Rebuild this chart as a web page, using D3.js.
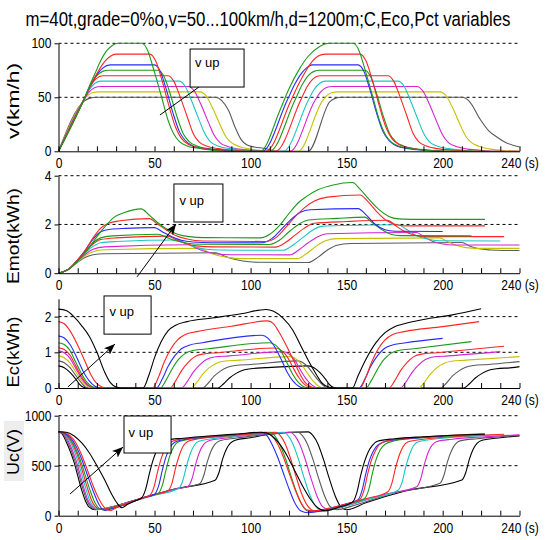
<!DOCTYPE html>
<html><head><meta charset="utf-8">
<script src="https://cdn.jsdelivr.net/npm/d3@7"></script>
<style>body{margin:0;background:#fff}svg{display:block}text{font-family:"Liberation Sans",Arial,sans-serif;fill:#000}</style>
</head><body><svg id="c" width="550" height="540"></svg>
<script>
const title = "m=40t,grade=0%o,v=50...100km/h,d=1200m;C,Eco,Pct variables";
const speeds = [50,55,60,65,70,75,80,90,100];
const xTickValues = [0,50,100,150,200,240];
const xTickLabels = ["0","50","100","150","200","240 (s)"];
const yLabels = ["v(km/h)","Emot(kWh)","Ec(kWh)","Uc(V)"];
const yTicksV = [0,50,100], yTicksEmot = [0,2,4], yTicksEc = [0,1,2], yTicksUc = [0,500,1000];
const annText = "v up";

const G='#1a9a1a', R='#ff2424', B='#2a2aff', C='#1cc4c4', M='#d424d4', Y='#c8c000', K='#000000', GR='#5a5a5a';
const vColors    = [GR,Y,M,C,R,G,B,R,G];
const emotColors = [GR,Y,M,C,R,G,B,R,G];
const ecColors   = [K,GR,Y,M,R,G,B,R,K];
const ucColors   = [K,GR,M,C,R,G,B,R,K];

const vSeries = [
 [[0,0],[13,46],[16,49],[20,50],[81.5,50],[85,47],[88.5,38],[92,22],[95,11],[98,6],[102,4],[108,2.5],[112,0.5],[115,0],[130,0],[141.3,46],[144,49],[147,50],[210,50],[214,46],[219.4,30],[224,19],[228,13.5],[233,8],[240,4]],
 [[0,0],[13,47],[15.5,52],[18,54.5],[21,55],[73.6,55],[77,51],[80,41],[84,25],[87,14],[90,8],[94,4.5],[100,2],[107,0.5],[110,0],[124.7,0],[137.5,47],[140,52],[142.5,54.5],[145.5,55],[198.6,55],[202,51],[205,41],[209,25],[212,14],[215,8],[219,4.5],[225,2],[232,0.8],[240,0.3]],
 [[0,0],[13,47],[16,55],[19,59],[22,60],[67.6,60],[71,55],[74,44],[78,27],[81,15],[84,8],[88,4.5],[94,2],[102,0.8],[107,0],[120.5,0],[133.5,47],[136.5,55],[139.5,59],[142.5,60],[186.5,60],[190,55],[193,44],[197,27],[200,15],[203,8],[207,4.5],[213,2],[221,0.8],[228,0],[240,0]],
 [[0,0],[13,47],[16,57],[19,63],[22,65],[62.7,65],[66,60],[69,48],[73,30],[76,17],[79,9],[83,5],[89,2.5],[97,1],[103,0],[117,0],[130,47],[133,57],[136,63],[139,65],[176.8,65],[180,60],[183,48],[187,30],[190,17],[193,9],[197,5],[203,2.5],[211,1],[218,0],[230,0]],
 [[0,0],[13,47],[16.5,60],[19.5,67],[23,70],[57,70],[60,65],[63,52],[67,32],[70,17],[73,9],[77,5],[83,2.5],[92,1],[98,0],[113,0],[126,47],[129.5,60],[132.5,67],[136,70],[171.5,70],[174.5,65],[177.5,52],[181.5,32],[184.5,17],[187.5,9],[191.5,5],[197,2.5],[206,1],[214,0],[232,0]],
 [[0,0],[13,47],[17,62],[20,70],[23,74],[26,75],[52,75],[55,69],[58,54],[61.5,33],[65,16],[68,9],[72,5],[78,2.5],[87,1],[94,0],[110,0],[123,47],[127,62],[130,70],[133,74],[136,75],[159.5,75],[162.5,69],[165.5,54],[169,33],[172.5,16],[175.5,9],[179.5,5],[185,2.5],[194,1],[202,0],[215,0]],
 [[0,0],[13,47],[17,62],[20,71],[23,77],[27,80],[50,80],[53,74],[56,58],[59.5,36],[63,18],[66,10],[70,5],[76,2.5],[85,1],[92,0],[106,0],[119,47],[123,62],[126,71],[129,77],[132,80],[156,80],[159,74],[162,58],[165.5,36],[169,18],[172,10],[176,5],[182,2.5],[191,1],[200,0]],
 [[0,0],[13,47],[17,62],[21,75],[24,83],[27,88],[30,90],[47.6,90],[50.5,84],[54,65],[57.5,42],[61,22],[64,12],[68,6],[74,3],[82,1],[90,0],[108,0],[121,47],[125,62],[129,75],[132,83],[135,88],[139,90],[157,90],[160,84],[163.5,65],[167,42],[170.5,22],[173.5,12],[177.5,6],[183,3],[191,1],[200,0],[222,0]],
 [[0,0],[13,47],[16,60],[19,72],[22,84],[25,93],[28,98],[31,100],[43.3,100],[46,95],[50,73],[54,48],[57,29],[60,16],[63,9],[67,5],[72,3],[80,1],[88,0],[105,0],[115.3,38],[120,58],[125.7,77],[130,88],[136,97],[141,100],[153.3,100],[156,95],[160,73],[164,48],[167,29],[170,16],[173,9],[177,5],[182,3],[190,1],[200,0],[222,0]]
];

const emotSeries = [
 [[0,0],[5,0.15],[10,0.45],[14,0.65],[18,0.76],[24,0.8],[81.5,0.84],[85,0.75],[90,0.6],[96,0.5],[104,0.45],[130,0.44],[135,0.65],[140,0.95],[145,1.15],[152,1.22],[210,1.26],[214,1.12],[219,1.0],[225,0.95],[232,0.93],[240,0.93]],
 [[0,0],[5,0.15],[10,0.48],[14,0.72],[18,0.88],[24,0.96],[73.5,1.02],[77,0.9],[82,0.75],[88,0.65],[96,0.6],[124.5,0.6],[129,0.8],[134,1.1],[139,1.33],[145,1.42],[198.5,1.45],[202,1.32],[207,1.15],[212,1.05],[218,1.02],[240,1.02]],
 [[0,0],[5,0.15],[10,0.5],[14,0.78],[18,0.98],[24,1.08],[67.5,1.17],[71,1.05],[76,0.9],[82,0.8],[90,0.76],[120.5,0.75],[125,0.95],[130,1.25],[135,1.5],[140,1.62],[186.5,1.67],[190,1.5],[195,1.3],[200,1.2],[206,1.16],[240,1.16]],
 [[0,0],[5,0.15],[10,0.52],[14,0.85],[18,1.1],[22,1.25],[30,1.3],[62.5,1.36],[66,1.24],[71,1.08],[77,0.98],[84,0.95],[117,0.94],[122,1.15],[127,1.45],[132,1.75],[137,1.92],[150,1.96],[177,1.99],[181,1.8],[186,1.56],[192,1.4],[198,1.33],[230,1.32]],
 [[0,0],[5,0.15],[10,0.55],[14,0.88],[18,1.2],[22,1.38],[30,1.45],[57,1.52],[61,1.38],[66,1.22],[72,1.12],[80,1.08],[113,1.07],[118,1.25],[123,1.55],[128,1.85],[133,2.05],[150,2.12],[171.5,2.17],[175,1.98],[180,1.72],[186,1.55],[192,1.5],[232,1.5]],
 [[0,0],[5,0.15],[10,0.55],[14,0.9],[18,1.25],[22,1.45],[28,1.53],[52,1.6],[56,1.48],[61,1.33],[67,1.23],[74,1.19],[110,1.18],[115,1.35],[120,1.7],[125,2.0],[130,2.18],[145,2.25],[159.5,2.3],[163,2.1],[168,1.8],[173,1.6],[178,1.54],[215,1.53]],
 [[0,0],[5,0.15],[10,0.55],[14,0.95],[18,1.4],[22,1.7],[27,1.8],[35,1.84],[50,1.87],[54,1.7],[59,1.5],[64,1.35],[70,1.28],[80,1.25],[106,1.25],[111,1.42],[116,1.8],[121,2.2],[126,2.5],[131,2.6],[156,2.65],[160,2.4],[165,2.0],[170,1.78],[175,1.72],[200,1.71]],
 [[0,0],[5,0.15],[10,0.55],[14,0.95],[18,1.45],[22,1.85],[26,2.05],[32,2.15],[47.5,2.24],[51,2.05],[56,1.78],[61,1.55],[67,1.4],[75,1.32],[108,1.3],[113,1.45],[118,1.85],[123,2.3],[128,2.68],[133,2.95],[140,3.12],[157,3.21],[161,2.95],[166,2.5],[171,2.15],[176,1.99],[182,1.94],[222,1.94]],
 [[0,0],[5,0.15],[10,0.5],[15,0.95],[20,1.5],[25,1.98],[29,2.3],[34,2.48],[43,2.64],[47,2.4],[52,2.05],[57,1.78],[62,1.6],[68,1.5],[76,1.46],[105,1.45],[110,1.6],[115,1.95],[120,2.45],[125,2.9],[129,3.14],[135,3.42],[143,3.62],[153,3.72],[157,3.45],[162,3.0],[167,2.6],[172,2.33],[177,2.23],[183,2.21],[222,2.21]]
];

const ecSeries = [
 [[0,0.62],[3,0.57],[6,0.44],[9,0.25],[11,0.1],[13,0.02],[15,0],[83,0],[86,0.12],[89,0.28],[92.5,0.41],[96,0.5],[100,0.54],[108,0.57],[130,0.62],[133,0.57],[136,0.44],[139,0.25],[141,0.1],[143,0.02],[145,0],[211,0],[214,0.12],[217,0.28],[220.5,0.41],[224,0.5],[228,0.54],[236,0.57],[240,0.6]],
 [[0,0.76],[3,0.71],[6,0.57],[9,0.35],[12,0.14],[14,0.03],[16,0],[75,0],[78,0.14],[81,0.33],[84.5,0.48],[88,0.58],[92,0.63],[100,0.66],[124.5,0.76],[127.5,0.7],[130.5,0.55],[133.5,0.33],[136.5,0.14],[139,0.03],[141,0],[199,0],[202,0.14],[205,0.33],[208.5,0.48],[212,0.58],[216,0.63],[224,0.66],[240,0.74]],
 [[0,0.9],[3,0.85],[6,0.7],[9,0.45],[12,0.2],[15,0.05],[17,0],[69,0],[72,0.16],[75,0.38],[78.5,0.57],[82,0.69],[86,0.75],[94,0.78],[120.5,0.88],[123.5,0.82],[126.5,0.66],[129.5,0.42],[132.5,0.2],[135.5,0.05],[138,0],[187.5,0],[190.5,0.16],[193.5,0.38],[197,0.57],[200.5,0.69],[204.5,0.75],[212,0.78],[240,0.88]],
 [[0,1.04],[3,0.99],[6,0.83],[9,0.55],[12,0.27],[15,0.08],[18,0],[64,0],[67,0.18],[70,0.43],[73.5,0.65],[77,0.8],[81,0.87],[89,0.9],[117,1.02],[120,0.95],[123,0.78],[126,0.5],[129,0.25],[132,0.08],[135,0],[178,0],[181,0.18],[184,0.43],[187.5,0.65],[191,0.8],[195,0.87],[203,0.9],[230,1.02]],
 [[0,1.13],[3,1.08],[6,0.92],[9,0.62],[12,0.32],[15,0.1],[18,0.02],[21,0],[58,0],[61,0.2],[64,0.48],[67.5,0.72],[71,0.88],[75,0.95],[83,0.99],[113,1.12],[116,1.05],[119,0.88],[122,0.58],[125,0.3],[128,0.1],[131,0.02],[134,0],[172,0],[175,0.2],[178,0.48],[181.5,0.72],[185,0.88],[189,0.95],[197,0.99],[232,1.17]],
 [[0,1.27],[3,1.22],[6,1.05],[9,0.72],[12,0.4],[15,0.15],[18,0.03],[21,0],[53,0],[56,0.22],[59,0.52],[62.5,0.8],[66,0.97],[70,1.05],[78,1.1],[110,1.27],[113,1.2],[116,1.02],[119,0.7],[122,0.38],[125,0.15],[128,0.03],[131,0],[160,0],[163,0.22],[166,0.52],[169.5,0.8],[173,0.97],[177,1.05],[185,1.1],[215,1.3]],
 [[0,1.46],[3,1.4],[6,1.22],[10,0.8],[13,0.45],[16,0.2],[19,0.05],[22,0],[51,0],[54,0.25],[57,0.6],[60.5,0.9],[64,1.1],[68,1.2],[75,1.27],[106,1.48],[109,1.4],[112,1.2],[116,0.8],[119,0.45],[122,0.2],[125,0.05],[128,0],[156.5,0],[159.5,0.25],[162.5,0.6],[166,0.9],[169.5,1.1],[173.5,1.2],[180,1.26],[200,1.39]],
 [[0,1.86],[3,1.8],[6,1.6],[10,1.2],[14,0.72],[17,0.36],[20,0.12],[23,0.02],[26,0],[49,0],[52,0.3],[55,0.72],[58.5,1.1],[62,1.35],[66,1.5],[72,1.58],[90,1.73],[109,1.88],[112,1.8],[115,1.55],[119,1.15],[123,0.7],[126,0.36],[129,0.12],[132,0.02],[135,0],[157,0],[160,0.3],[163,0.72],[166.5,1.1],[170,1.35],[174,1.5],[180,1.58],[200,1.72],[219,1.86]],
 [[0,2.21],[4,2.17],[8,2.0],[12,1.75],[16,1.45],[20,1.0],[24,0.45],[27,0.15],[30,0.03],[33,0],[44,0],[47,0.35],[50,0.85],[53.5,1.3],[57,1.6],[61,1.76],[67,1.86],[80,1.96],[95,2.08],[108,2.2],[112,2.15],[117,1.95],[122,1.62],[126,1.2],[130,0.78],[134,0.4],[137,0.15],[141,0.02],[145,0],[153,0],[156,0.35],[160,0.8],[165,1.25],[170,1.55],[175,1.72],[180,1.8],[190,1.92],[205,2.05],[220,2.22]]
];

const ucSeries = [
 [[0,840],[2,815],[4,740],[6,650],[8,540],[10,400],[12,260],[14,150],[16,85],[19,60],[24,70],[30,100],[45,185],[60,265],[81.5,355],[83.5,430],[85.5,570],[87.5,670],[89.5,725],[92,755],[100,780],[110,815],[125,836],[130,838],[132.5,800],[135,720],[138,560],[141,370],[144,200],[147,90],[150,60],[160,130],[180,245],[210,357],[212,430],[214,570],[216,670],[218,725],[220.5,755],[230,780],[240,798]],
 [[0,840],[2.5,815],[4.5,745],[6.5,660],[8.5,550],[10.5,420],[12.5,280],[14.5,165],[16.5,95],[19.5,62],[24,68],[30,100],[45,185],[60,265],[73.5,320],[75.5,395],[77.5,540],[79.5,650],[81.5,715],[84,750],[92,775],[105,805],[120,832],[124.5,835],[127,800],[129.5,720],[132.5,560],[135.5,370],[138.5,200],[141.5,90],[145,60],[155,110],[175,230],[198.6,325],[200.6,400],[202.6,545],[204.6,650],[206.6,715],[209,748],[218,770],[230,790],[240,805]],
 [[0,840],[3,815],[5,750],[7,665],[9,560],[11,430],[13,290],[15,170],[17,100],[20,65],[24,70],[30,100],[45,182],[60,262],[67.5,295],[69.5,370],[71.5,520],[73.5,640],[75.5,710],[78,748],[85,772],[100,805],[115,830],[120.5,835],[123,800],[125.5,720],[128.5,560],[131.5,370],[134.5,200],[137.5,90],[141,60],[150,100],[170,215],[186.5,290],[188.5,365],[190.5,515],[192.5,635],[194.5,705],[197,742],[205,765],[222,790],[240,808]],
 [[0,840],[3,818],[5.5,755],[8,660],[10,550],[12,420],[14,285],[16,165],[18,95],[21,62],[25,72],[30,98],[40,150],[50,205],[62.7,275],[64.7,350],[66.7,500],[68.7,625],[70.7,705],[73,745],[80,770],[95,800],[110,828],[117,835],[119.5,800],[122,720],[125,560],[128,370],[131,200],[134,90],[137,55],[145,75],[160,160],[176.8,255],[178.8,330],[180.8,490],[182.8,615],[184.8,700],[187.3,740],[195,765],[215,795],[230,810]],
 [[0,840],[3,822],[6,760],[8.5,670],[11,540],[13,410],[15,280],[17,165],[19,95],[22,62],[26,75],[32,105],[40,150],[50,210],[57,250],[59,320],[61,480],[63,610],[65,700],[67.5,745],[73,770],[90,800],[108,828],[113,835],[115.5,800],[118,720],[121,560],[124,370],[127,200],[130,90],[133,50],[140,60],[150,115],[160,170],[171.5,240],[173.5,320],[175.5,480],[177.5,610],[179.5,695],[182,740],[190,765],[210,795],[232,815]],
 [[0,840],[3,825],[6,770],[9,670],[11.5,550],[14,400],[16.5,250],[19,130],[21.5,70],[24,58],[28,75],[36,120],[44,180],[52,225],[54,300],[56,460],[58,600],[60,690],[62.5,740],[68,765],[85,795],[100,825],[110,835],[112.5,800],[115,720],[118,580],[121,400],[124,230],[127,100],[130,45],[134,40],[142,60],[150,115],[159.5,175],[161.5,260],[163.5,430],[165.5,570],[167.5,660],[170,715],[175,750],[190,780],[215,805]],
 [[0,840],[3,828],[6,785],[9,700],[12,570],[15,410],[18,250],[21,115],[24,52],[28,70],[36,120],[43,175],[50,215],[52,290],[54,450],[56,590],[58,680],[60.5,735],[65,760],[80,790],[100,825],[106,835],[108.5,800],[111,720],[114,590],[117,430],[120,270],[123,130],[126,50],[130,30],[138,55],[148,110],[156,160],[158,250],[160,420],[162,560],[164,650],[166.5,710],[171,745],[185,775],[200,795]],
 [[0,840],[3,835],[6,800],[9,730],[12,610],[15,460],[18,300],[21,170],[24,80],[27,50],[30,80],[36,120],[42,170],[47.6,205],[49.6,280],[51.6,440],[53.6,580],[55.6,670],[58,730],[62,760],[75,785],[95,815],[108,835],[111,800],[114,720],[117,590],[120,430],[123,270],[126,140],[129,60],[133,50],[142,80],[150,120],[157,165],[159,250],[161,420],[163,560],[165,650],[167,710],[171,750],[185,780],[205,805],[222,820]],
 [[0,840],[4,835],[8,800],[12,730],[16,630],[20,500],[24,360],[27,240],[30,140],[33,80],[36,115],[40,150],[43.3,178],[45.3,260],[47.3,420],[49.3,560],[51.3,660],[53.3,720],[56,755],[65,775],[80,800],[95,820],[105,835],[108,830],[111,800],[115,720],[119,600],[123,450],[127,300],[131,170],[135,80],[139,50],[145,80],[153.3,140],[155.3,230],[157.3,400],[159.3,540],[161.3,640],[163.3,700],[166,745],[175,770],[190,790],[205,805],[222,815]]
];

const annBoxes  = [[68.5,96.6,94.7,59.5],[60.1,85.6,3.66,2.1],[23.7,48.2,2.58,1.51],[34.1,58.6,997,627]];
const annTexts  = [[71,78],[63,2.8],[26.5,2.02],[36.5,787]];
const annArrows = [[52.8,33.6,80.4,68.8],[40.9,-0.15,61.2,2.02],[4.9,0.03,29.4,1.23],[6.0,217,33.6,687]];

const panels = [
 {series:vSeries, colors:vColors, ticks:yTicksV, max:100, top:43.3, bottom:151.3, labLen:76, labY:101},
 {series:emotSeries, colors:emotColors, ticks:yTicksEmot, max:4, top:175.7, bottom:273.2, labLen:96, labY:236},
 {series:ecSeries, colors:ecColors, ticks:yTicksEc, max:2.5, top:298.8, bottom:388, labLen:71, labY:352},
 {series:ucSeries, colors:ucColors, ticks:yTicksUc, max:1000, top:415.7, bottom:515.7, labLen:46, labY:452}
];

const svg = d3.select('#c');
svg.append('rect').attr('width',550).attr('height',540).attr('fill','#fff');
const defs = svg.append('defs');
defs.append('marker').attr('id','ah').attr('viewBox','0 0 10 8').attr('refX',10).attr('refY',4)
  .attr('markerWidth',11).attr('markerHeight',9).attr('markerUnits','userSpaceOnUse').attr('orient','auto')
  .append('path').attr('d','M0,0L10,4L0,8L2.5,4Z').attr('fill','#000');

const x = d3.scaleLinear().domain([0,240]).range([58.5,519.5]);

svg.append('text').attr('transform','translate(268,26) scale(1,1.18)').attr('text-anchor','middle')
  .attr('font-size',16.5).attr('textLength',485).attr('lengthAdjust','spacingAndGlyphs').text(title);

svg.append('rect').attr('x',4).attr('y',421).attr('width',20).attr('height',60).attr('fill','#ededed');

panels.forEach((p,i)=>{
  const y = d3.scaleLinear().domain([0,p.max]).range([p.bottom,p.top]);
  const g = svg.append('g');
  g.selectAll('line.grid').data(p.ticks.filter(v=>v>0)).join('line')
    .attr('x1',x(0)).attr('x2',x(240)).attr('y1',d=>y(d)).attr('y2',d=>y(d))
    .attr('stroke','#000').attr('stroke-width',1).attr('stroke-dasharray','3,3');
  const line = d3.line().x(d=>x(d[0])).y(d=>y(d[1])).curve(d3.curveMonotoneX);
  g.selectAll('path.s').data(p.series).join('path')
    .attr('d',line).attr('fill','none').attr('stroke',(d,j)=>p.colors[j]).attr('stroke-width',1.1);
  const xa = d3.axisBottom(x).tickValues(d3.range(0,241,10)).tickSizeInner(-5).tickSizeOuter(0).tickPadding(7)
    .tickFormat(v=>{const k=xTickValues.indexOf(v);return k>=0?xTickLabels[k]:'';});
  const gx = g.append('g').attr('transform',`translate(0,${p.bottom})`).call(xa);
  gx.selectAll('text').attr('font-size',14).attr('font-family','"Liberation Sans",Arial,sans-serif').attr('fill','#000').classed('tl',true);
  gx.selectAll('path,line').attr('stroke','#000');
  const ya = d3.axisLeft(y).tickValues(p.ticks).tickFormat(d=>String(d)).tickSizeInner(4).tickSizeOuter(0).tickPadding(3);
  const gy = g.append('g').attr('transform',`translate(${x(0)},0)`).call(ya);
  gy.selectAll('text').attr('font-size',14).attr('font-family','"Liberation Sans",Arial,sans-serif').attr('fill','#000').classed('tl',true);
  gy.selectAll('path,line').attr('stroke','#000');
  svg.append('text').attr('transform',`translate(19,${p.labY}) rotate(-90)`).attr('text-anchor','middle')
    .attr('font-size',16).attr('textLength',p.labLen).attr('lengthAdjust','spacingAndGlyphs').text(yLabels[i]);
  const b = annBoxes[i];
  g.append('line').attr('x1',x(annArrows[i][0])).attr('y1',y(annArrows[i][1])).attr('x2',x(annArrows[i][2])).attr('y2',y(annArrows[i][3]))
    .attr('stroke','#000').attr('stroke-width',1).attr('marker-end','url(#ah)');
  g.append('rect').attr('x',x(b[0])).attr('y',y(b[2])).attr('width',x(b[1])-x(b[0])).attr('height',y(b[3])-y(b[2]))
    .attr('fill','#fff').attr('stroke','#000').attr('stroke-width',1);
  g.append('text').attr('x',x(annTexts[i][0])).attr('y',y(annTexts[i][1])).attr('font-size',13).text(annText);
});

svg.selectAll('text.tl').each(function(){
  const L=this.getComputedTextLength();
  if(L>0){this.setAttribute('textLength',L*0.86);this.setAttribute('lengthAdjust','spacingAndGlyphs');}
});
</script></body></html>
